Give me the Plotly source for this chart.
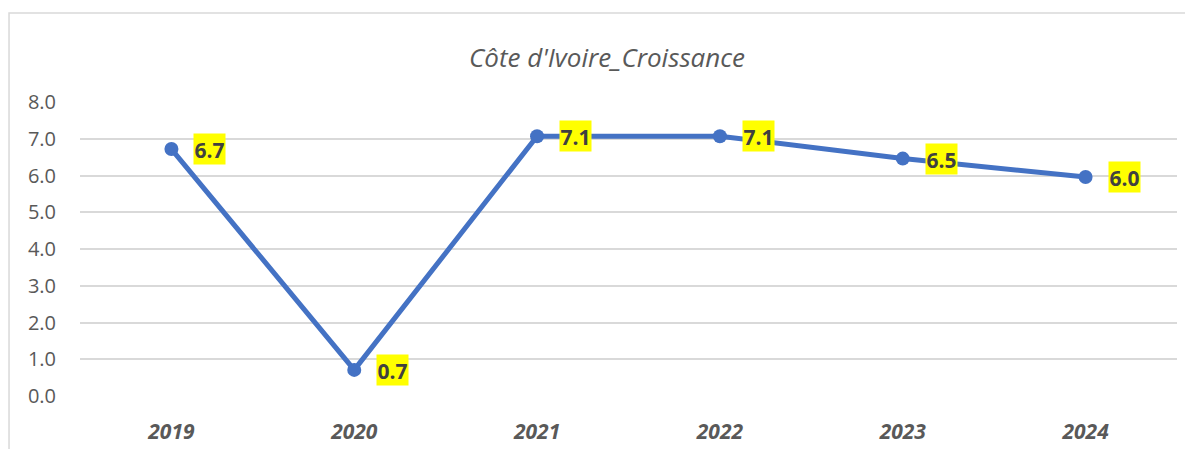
import plotly.graph_objects as go

years = ["2019", "2020", "2021", "2022", "2023", "2024"]
growth = [6.72, 0.71, 7.07, 7.07, 6.46, 5.96]
labels = ["6.7", "0.7", "7.1", "7.1", "6.5", "6.0"]
y_ticks = [0, 1, 2, 3, 4, 5, 6, 7, 8]

FONT = "Open Sans, Lato, sans-serif"

fig = go.Figure()
fig.add_trace(go.Scatter(
    x=years, y=growth, mode="lines+markers",
    line=dict(color="#4472C4", width=5),
    marker=dict(color="#4472C4", size=14),
    showlegend=False, hoverinfo="skip",
))

for i, (v, t) in enumerate(zip(growth, labels)):
    fig.add_annotation(
        x=i, y=v, xref="x", yref="y", text="<b>" + t + "</b>",
        showarrow=False, xanchor="left", yanchor="middle", xshift=22, yshift=0,
        width=31, height=30, valign="bottom", align="center",
        bgcolor="#FFFF00", borderpad=0,
        font=dict(family=FONT, size=21, color="#404040"),
    )

fig.add_shape(type="rect", xref="paper", yref="paper",
              x0=-0.0647, x1=1.05, y0=-0.3, y1=1.3027,
              line=dict(color="#d9d9d9", width=1.5), fillcolor="rgba(0,0,0,0)")

fig.update_layout(
    width=1185, height=441,
    margin=dict(l=72, r=16, t=94, b=53, autoexpand=False),
    paper_bgcolor="white", plot_bgcolor="white",
    title=dict(text="<i>Côte d'Ivoire_Croissance</i>", x=599 / 1185, xanchor="center",
               y=1 - 50 / 441, yanchor="middle", xref="container", yref="container",
               font=dict(family=FONT, size=26, color="#595959")),
    xaxis=dict(type="category", range=[-0.5, 5.5], showgrid=False, zeroline=False,
               showline=False, ticks="", ticklabelstandoff=21, automargin=False,
               tickfont=dict(family=FONT, size=21, color="#595959"),
               tickvals=years, ticktext=["<b><i>" + y + "</i></b>" for y in years]),
    yaxis=dict(range=[0, 8], tickvals=y_ticks, tickformat=".1f", automargin=False,
               showgrid=True, gridcolor="#d9d9d9", gridwidth=1.5,
               zeroline=False, showline=False, ticks="", ticklabelstandoff=23,
               tickfont=dict(family=FONT, size=20, color="#595959")),
)

fig.write_html("out.html")
